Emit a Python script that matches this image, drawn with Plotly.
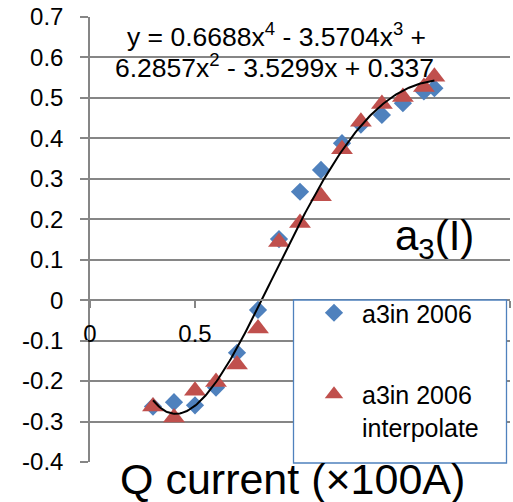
import numpy as np
import plotly.graph_objects as go

# ---- data ----
q_current = [0.30, 0.40, 0.50, 0.60, 0.70, 0.80, 0.90, 1.00, 1.10, 1.20, 1.29, 1.39, 1.49, 1.59, 1.64]
a3_2006 = [-0.263, -0.252, -0.260, -0.216, -0.130, -0.024, 0.151, 0.268, 0.322, 0.388, 0.434, 0.458, 0.487, 0.516, 0.524]
a3_2006_interp = [-0.263, -0.290, -0.224, -0.202, -0.159, -0.070, 0.144, 0.191, 0.257, 0.373, 0.441, 0.485, 0.502, 0.527, 0.552]
# displayed trendline: y = 0.6688x^4 - 3.5704x^3 + 6.2857x^2 - 3.5299x + 0.337
trend_coeffs = [0.6688, -3.5704, 6.2857, -3.5299, 0.337]
x_ticks = [0, 0.5, 1, 1.5, 2]
y_ticks = [-0.4, -0.3, -0.2, -0.1, 0, 0.1, 0.2, 0.3, 0.4, 0.5, 0.6, 0.7]

series_names = ["a3in 2006", "a3in 2006<br>interpolate"]
eq_line1 = "y = 0.6688x<sup>4</sup> - 3.5704x<sup>3</sup> +"
eq_line2 = "6.2857x<sup>2</sup> - 3.5299x + 0.337"
x_title = "Q current (×100A)"
label_text = "a<sub>3</sub>(I)"

# ---- layout geometry (pixels) ----
W, H = 513, 502
L, R, T, B = 90, 3, 17, 40
PW, PH = W - L - R, H - T - B


def px(x):
    return (x - L) / PW


def py(y):
    return (H - B - y) / PH


FONT = "Liberation Sans, Arial, sans-serif"
BLUE = "#4f81bd"
RED = "#c0504d"
GRID = "#868686"

xt = np.linspace(min(q_current), max(q_current), 200)
yt = np.polyval(trend_coeffs, xt)

fig = go.Figure()
fig.add_trace(go.Scatter(x=q_current, y=a3_2006, mode="markers", name=series_names[0],
                         legendgroup="g1",
                         marker=dict(symbol="diamond", size=14, color=BLUE)))
fig.add_trace(go.Scatter(x=q_current, y=a3_2006_interp, mode="markers", name=series_names[1],
                         legendgroup="g2",
                         marker=dict(symbol="triangle-up", size=19, color=RED)))
fig.add_trace(go.Scatter(x=xt, y=yt, mode="lines", showlegend=False,
                         line=dict(color="black", width=2)))

fig.update_layout(
    width=W, height=H,
    margin=dict(l=L, r=R, t=T, b=B),
    paper_bgcolor="white", plot_bgcolor="white",
    font=dict(family=FONT, color="black"),
    showlegend=True,
    legend=dict(x=px(306), y=py(290), xanchor="left", yanchor="top",
                bgcolor="rgba(0,0,0,0)", borderwidth=0,
                font=dict(size=25, family=FONT, color="black"),
                itemwidth=46,
                traceorder="grouped", tracegroupgap=46, valign="top"),
    xaxis=dict(range=[0, 2], tickvals=x_ticks, ticktext=[f"{v:g}" for v in x_ticks],
               showgrid=False, zeroline=False, showline=True, linecolor=GRID, linewidth=1.5,
               ticks="outside", ticklen=7, tickcolor=GRID, tickwidth=1.5,
               tickfont=dict(size=24, family=FONT, color="black"),
               anchor="free", position=(0 - (-0.4)) / (0.7 - (-0.4)),
               ticklabelstandoff=5),
    yaxis=dict(range=[-0.4, 0.7], tickvals=y_ticks, ticktext=[f"{v:g}" for v in y_ticks],
               showgrid=True, gridcolor=GRID, gridwidth=1.5, zeroline=False,
               showline=True, linecolor=GRID, linewidth=1.5,
               ticks="outside", ticklen=8, tickcolor=GRID, tickwidth=1.5,
               tickfont=dict(size=24, family=FONT, color="black"),
               ticklabelstandoff=12),
)

# legend frame
fig.add_shape(type="rect", xref="paper", yref="paper",
              x0=px(293.5), x1=px(506.5), y0=py(463), y1=py(300),
              line=dict(color=BLUE, width=1.3), fillcolor="white", layer="above")

def add_text(text, x, y, size):
    fig.add_annotation(text=text, x=px(x), y=py(y), xref="paper", yref="paper",
                       xanchor="center", yanchor="middle", showarrow=False,
                       font=dict(family=FONT, color="black", size=size))

add_text(eq_line1, 276, 35, 26.5)
add_text(eq_line2, 274.5, 66, 26.5)
add_text(label_text, 434, 238, 42)
add_text(x_title, 292, 479, 43)

fig.write_html("out.html")
